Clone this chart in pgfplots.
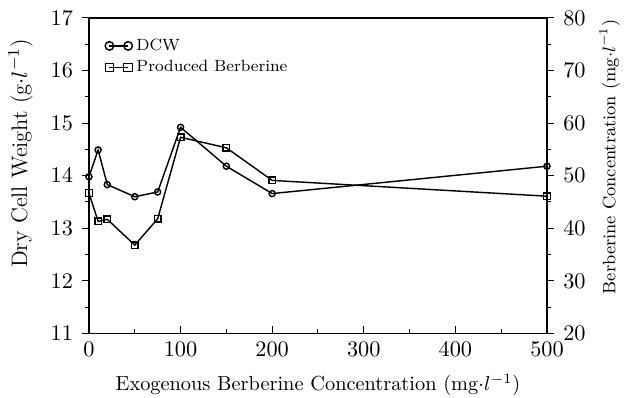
\documentclass[border=0pt]{standalone}
\usepackage{pgfplots}
\pgfplotsset{compat=1.18}
\pgfplotstableread{
x dcw
0 13.98
10 14.49
20 13.83
50 13.60
75 13.69
100 14.92
150 14.18
200 13.66
500 14.18
}\dcwtable
\pgfplotstableread{
x ber
0 46.7
10 41.3
20 41.7
50 36.8
75 41.8
100 57.3
150 55.3
200 49.1
500 46.1
}\bertable
\begin{document}
\begin{tikzpicture}
\pgfplotsset{
  base/.style={
    scale only axis, width=225pt, height=155pt,
    xmin=0, xmax=500,
    major tick length=3.5pt, minor tick length=2pt,
    every tick/.style={black, line width=0.5pt},
    axis line style={line width=0.8pt},
    tick label style={font=\fontsize{11}{13}\selectfont},
    label style={font=\fontsize{11}{13}\selectfont},
  },
  legline/.style={
    legend image code/.code={
      \draw[##1, mark size=2.1pt, mark indices={1,3}] plot coordinates {(0pt,0pt) (4.6pt,0pt) (9.2pt,0pt)};
    }
  }
}
\begin{axis}[base, name=main,
  ymin=11, ymax=17, ytick={11,...,17}, minor y tick num=1,
  xtick={0,100,...,500}, minor x tick num=1,
  ytick pos=left, xtick pos=bottom,
  ytick align=outside, xtick align=inside,
  yticklabel style={xshift=-0.8pt},
  xticklabel style={yshift=-0.5pt},
  xlabel={Exogenous Berberine Concentration (mg$\cdot l^{-1}$)},
  ylabel={Dry Cell Weight (g$\cdot l^{-1}$)},
  ylabel style={at={(ticklabel cs:0.57)}, yshift=2pt},
  xlabel style={yshift=-2pt, font=\fontsize{10}{12}\selectfont},
  legend style={at={(0.03,0.955)}, anchor=north west, draw=none, fill=none,
    font=\footnotesize, inner sep=1pt, row sep=-0.5pt},
  legend cell align=left,
]
\addplot[black, line width=0.7pt, mark=o, mark size=1.5pt, mark options={fill=white, line width=0.7pt}, legline] table[x=x, y=dcw] {\dcwtable};
\addlegendentry{DCW}
\addlegendimage{black, line width=0.6pt, mark=square, mark size=2pt, mark options={fill=white}, legline}
\addlegendentry{Produced Berberine}
\end{axis}
\begin{axis}[base,
  ymin=20, ymax=80, ytick={20,30,...,80}, minor y tick num=1,
  axis y line*=right, axis x line=none,
  ytick align=outside,
  yticklabel style={xshift=1pt},
  ylabel={Berberine Concentration (mg$\cdot l^{-1}$)},
  ylabel style={at={(ticklabel cs:0.56)}, font=\fontsize{8.8}{10}\selectfont},
]
\addplot[black, line width=0.7pt, mark=square, mark size=1.6pt, mark options={fill=white, line width=0.7pt}] table[x=x, y=ber] {\bertable};
\end{axis}
\pgfresetboundingbox
\path[use as bounding box] ([xshift=-43.7pt,yshift=-31.4pt]main.south west) rectangle ([xshift=39.3pt,yshift=8.8pt]main.north east);
\end{tikzpicture}
\end{document}
